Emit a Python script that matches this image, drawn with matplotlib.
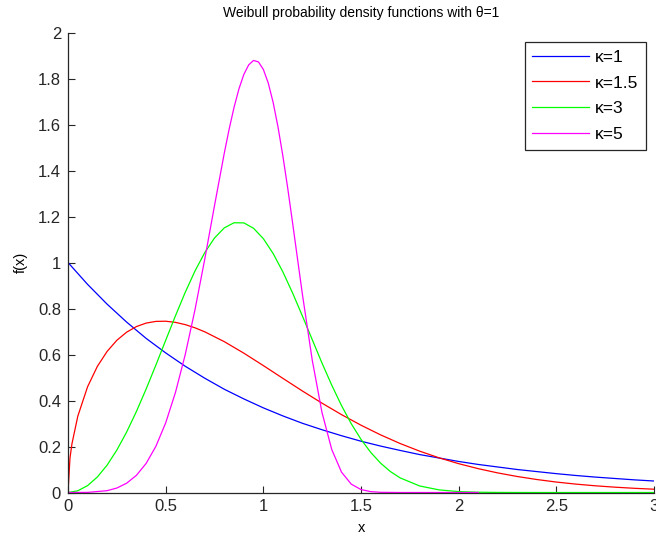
import matplotlib
matplotlib.use('Agg')
import matplotlib.pyplot as plt

plt.rcParams['font.family'] = ['Liberation Sans', 'DejaVu Sans']

# kappa = 1
x_k1 = [0.0, 0.1, 0.2, 0.3, 0.4, 0.5, 0.6, 0.7, 0.8, 0.9, 1.0, 1.1, 1.2, 1.3, 1.4, 1.5,
        1.6, 1.7, 1.8, 1.9, 2.0, 2.1, 2.2, 2.3, 2.4, 2.5, 2.6, 2.7, 2.8, 2.9, 3.0]
y_k1 = [1.0, 0.905, 0.819, 0.741, 0.670, 0.607, 0.549, 0.497, 0.449, 0.407, 0.368, 0.333,
        0.301, 0.273, 0.247, 0.223, 0.202, 0.183, 0.165, 0.150, 0.135, 0.122, 0.111, 0.100,
        0.091, 0.082, 0.074, 0.067, 0.061, 0.055, 0.050]

# kappa = 1.5
x_k15 = [0.0, 0.01, 0.02, 0.05, 0.1, 0.15, 0.2, 0.25, 0.3, 0.35, 0.4, 0.45, 0.5, 0.55, 0.6,
         0.65, 0.7, 0.8, 0.9, 1.0, 1.1, 1.2, 1.3, 1.4, 1.5, 1.6, 1.7, 1.8, 1.9, 2.0, 2.1,
         2.2, 2.3, 2.4, 2.5, 2.6, 2.7, 2.8, 2.9, 3.0]
y_k15 = [0.0, 0.150, 0.2115, 0.3317, 0.4596, 0.5482, 0.6134, 0.6619, 0.6971, 0.7215, 0.7367,
         0.7440, 0.7448, 0.7398, 0.7300, 0.7161, 0.6987, 0.6559, 0.6059, 0.5518, 0.4963,
         0.4413, 0.3886, 0.3387, 0.2926, 0.2507, 0.2131, 0.1799, 0.1507, 0.1254, 0.1037,
         0.0852, 0.0696, 0.0565, 0.0455, 0.0365, 0.0292, 0.0232, 0.0183, 0.0144]

# kappa = 3
x_k3 = [0.0, 0.05, 0.1, 0.15, 0.2, 0.25, 0.3, 0.35, 0.4, 0.45, 0.5, 0.55, 0.6, 0.65, 0.7,
        0.75, 0.8, 0.85, 0.9, 0.95, 1.0, 1.05, 1.1, 1.15, 1.2, 1.25, 1.3, 1.35, 1.4, 1.45,
        1.5, 1.55, 1.6, 1.65, 1.7, 1.8, 1.9, 2.0, 2.1, 2.2, 2.4, 3.0]
y_k3 = [0.0, 0.0075, 0.0300, 0.0673, 0.1190, 0.1846, 0.2628, 0.3521, 0.4502, 0.5546, 0.6619,
        0.7684, 0.8702, 0.9632, 1.0431, 1.1067, 1.1507, 1.1729, 1.1723, 1.1488, 1.1036,
        1.0392, 0.9590, 0.8669, 0.7672, 0.6652, 0.5633, 0.4670, 0.3781, 0.2991, 0.2310,
        0.1741, 0.1278, 0.0914, 0.0637, 0.0285, 0.0114, 0.0040, 0.0013, 0.0003, 0.0, 0.0]

# kappa = 5
x_k5 = [0.0, 0.1, 0.2, 0.25, 0.3, 0.35, 0.4, 0.45, 0.5, 0.55, 0.6, 0.65, 0.7, 0.75, 0.8,
        0.825, 0.85, 0.875, 0.9, 0.925, 0.95, 0.975, 1.0, 1.025, 1.05, 1.075, 1.1, 1.125,
        1.15, 1.175, 1.2, 1.25, 1.3, 1.35, 1.4, 1.45, 1.5, 1.55, 1.6, 1.7, 2.1]
y_k5 = [0.0, 0.0005, 0.0080, 0.0195, 0.0404, 0.0746, 0.1267, 0.2013, 0.3029, 0.4351, 0.5995,
        0.7947, 1.0148, 1.2479, 1.4758, 1.5806, 1.6749, 1.7550, 1.8177, 1.8595, 1.8787,
        1.8720, 1.8394, 1.7805, 1.6962, 1.5892, 1.4626, 1.3215, 1.1701, 1.0150, 0.8612,
        0.5768, 0.3486, 0.1873, 0.0887, 0.0364, 0.0128, 0.0038, 0.0009, 0.0, 0.0]

fig = plt.figure(figsize=(6.56, 5.42), dpi=100)
ax = fig.add_axes([0.1037, 0.0913, 0.8933, 0.8487])

ax.plot(x_k1, y_k1, color=(0, 0, 1), lw=0.9, label='κ=1')
ax.plot(x_k15, y_k15, color=(1, 0, 0), lw=0.9, label='κ=1.5')
ax.plot(x_k3, y_k3, color=(0, 1, 0), lw=0.9, label='κ=3')
ax.plot(x_k5, y_k5, color=(1, 0, 1), lw=0.9, label='κ=5')

ax.set_xlim(0, 3)
ax.set_ylim(0, 2)
ax.set_xticks([0, 0.5, 1, 1.5, 2, 2.5, 3])
ax.set_xticklabels(['0', '0.5', '1', '1.5', '2', '2.5', '3'])
ax.set_yticks([0, 0.2, 0.4, 0.6, 0.8, 1, 1.2, 1.4, 1.6, 1.8, 2])
ax.set_yticklabels(['0', '0.2', '0.4', '0.6', '0.8', '1', '1.2', '1.4', '1.6', '1.8', '2'])
ax.tick_params(direction='in', length=5, width=0.8, labelsize=12, colors='#262626', pad=5)
ax.spines['top'].set_visible(False)
ax.spines['right'].set_visible(False)
for s in ['left', 'bottom']:
    ax.spines[s].set_color('#262626')
    ax.spines[s].set_linewidth(0.9)

ax.set_title('Weibull probability density functions with θ=1', fontsize=10, pad=11.5)
ax.set_xlabel('x', fontsize=10.5, labelpad=5)
ax.set_ylabel('f(x)', fontsize=10.5, labelpad=7)

leg = ax.legend(loc='upper right', bbox_to_anchor=(0.986, 0.979), fontsize=12.5,
                handlelength=3.3, handletextpad=0.35, labelspacing=0.62,
                borderpad=0.42, borderaxespad=0, fancybox=False, framealpha=1)
leg.get_frame().set_edgecolor('#262626')
leg.get_frame().set_linewidth(0.9)

fig.savefig('out.png', dpi=100)
